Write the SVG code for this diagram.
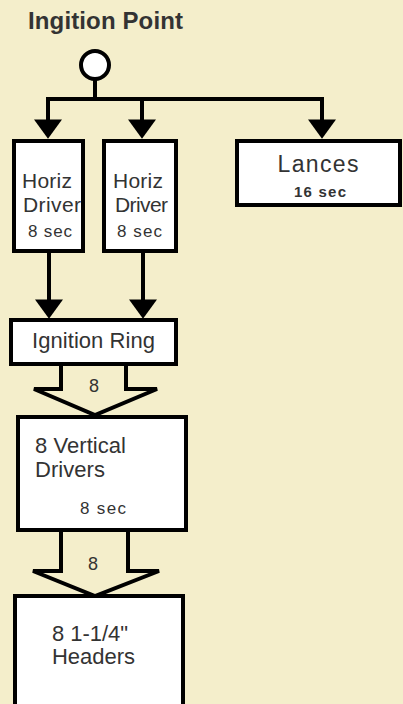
<svg xmlns="http://www.w3.org/2000/svg" width="403" height="704" viewBox="0 0 403 704">
<defs>
<marker id="ah" markerUnits="userSpaceOnUse" markerWidth="20" markerHeight="28" viewBox="0 0 18 26" refX="8" refY="13" orient="auto">
<path d="M0,0 L18,13 L0,26 z" fill="#000"/>
</marker>
<style>
.bg{fill:#f4eecb}
.box{fill:#fff;stroke:#000;stroke-width:4}
.ln{fill:none;stroke:#000;stroke-width:4}
.big{stroke:#000;stroke-width:4;fill:#f4eecb;stroke-linejoin:miter}
text{font-family:"Liberation Sans",Arial,sans-serif;fill:#333}
.t{font-size:22px}
.h{font-size:21px}
.s{font-size:17px}
.b{font-weight:bold}
</style>
</defs>
<rect class="bg" x="0" y="0" width="403" height="704"/>
<g id="title"><text x="28" y="29" class="b" style="font-size:24px" textLength="155">Ingition Point</text></g>
<g id="connectors">
<line class="ln" x1="95" y1="79" x2="95" y2="99"/>
<line class="ln" x1="46" y1="99" x2="324" y2="99"/>
<line class="ln" x1="48" y1="97" x2="48" y2="128" marker-end="url(#ah)"/>
<line class="ln" x1="142" y1="97" x2="142" y2="128" marker-end="url(#ah)"/>
<line class="ln" x1="322" y1="97" x2="322" y2="128" marker-end="url(#ah)"/>
<line class="ln" x1="49" y1="253" x2="49" y2="308" marker-end="url(#ah)"/>
<line class="ln" x1="143" y1="253" x2="143" y2="308" marker-end="url(#ah)"/>
<polygon class="big" points="61,364 61,389 34,389 95,415 157,389 126,389 126,364"/>
<text x="94" y="392" style="font-size:18px" text-anchor="middle">8</text>
<polygon class="big" points="61,530 61,571 33,571 95,596 159,571 128,571 128,530"/>
<text x="93" y="570" style="font-size:18px" text-anchor="middle">8</text>
</g>
<g id="ignition-point"><circle cx="95" cy="65" r="14" fill="#fff" stroke="#000" stroke-width="4"/></g>
<g id="horiz-driver-1">
<rect class="box" x="14" y="141" width="69" height="110"/>
<text x="22" y="188" class="h" textLength="50">Horiz</text>
<text x="23" y="212" class="h" textLength="58">Driver</text>
<text x="28" y="237" class="s" textLength="44">8 sec</text>
</g>
<g id="horiz-driver-2">
<rect class="box" x="104" y="141" width="72" height="110"/>
<text x="113" y="188" class="h" textLength="50">Horiz</text>
<text x="115" y="212" class="h" textLength="53">Driver</text>
<text x="117" y="237" class="s" textLength="45">8 sec</text>
</g>
<g id="lances">
<rect class="box" x="237" y="141" width="163" height="64"/>
<text x="318" y="172" style="font-size:23px" text-anchor="middle" textLength="81">Lances</text>
<text x="320" y="197" class="b" style="font-size:15px" text-anchor="middle" textLength="52">16 sec</text>
</g>
<g id="ignition-ring">
<rect class="box" x="11" y="320" width="165" height="44"/>
<text x="32" y="348" class="t" textLength="123">Ignition Ring</text>
</g>
<g id="vertical-drivers">
<rect class="box" x="18" y="417" width="168" height="113"/>
<text x="35" y="453" class="t" textLength="91">8 Vertical</text>
<text x="35" y="477" class="t" textLength="70">Drivers</text>
<text x="80" y="514" class="s" textLength="46">8 sec</text>
</g>
<g id="headers">
<rect class="box" x="15" y="596" width="168" height="120"/>
<text x="52" y="641" class="t" textLength="76">8 1-1/4"</text>
<text x="52" y="664" class="t" textLength="83">Headers</text>
</g>
</svg>
